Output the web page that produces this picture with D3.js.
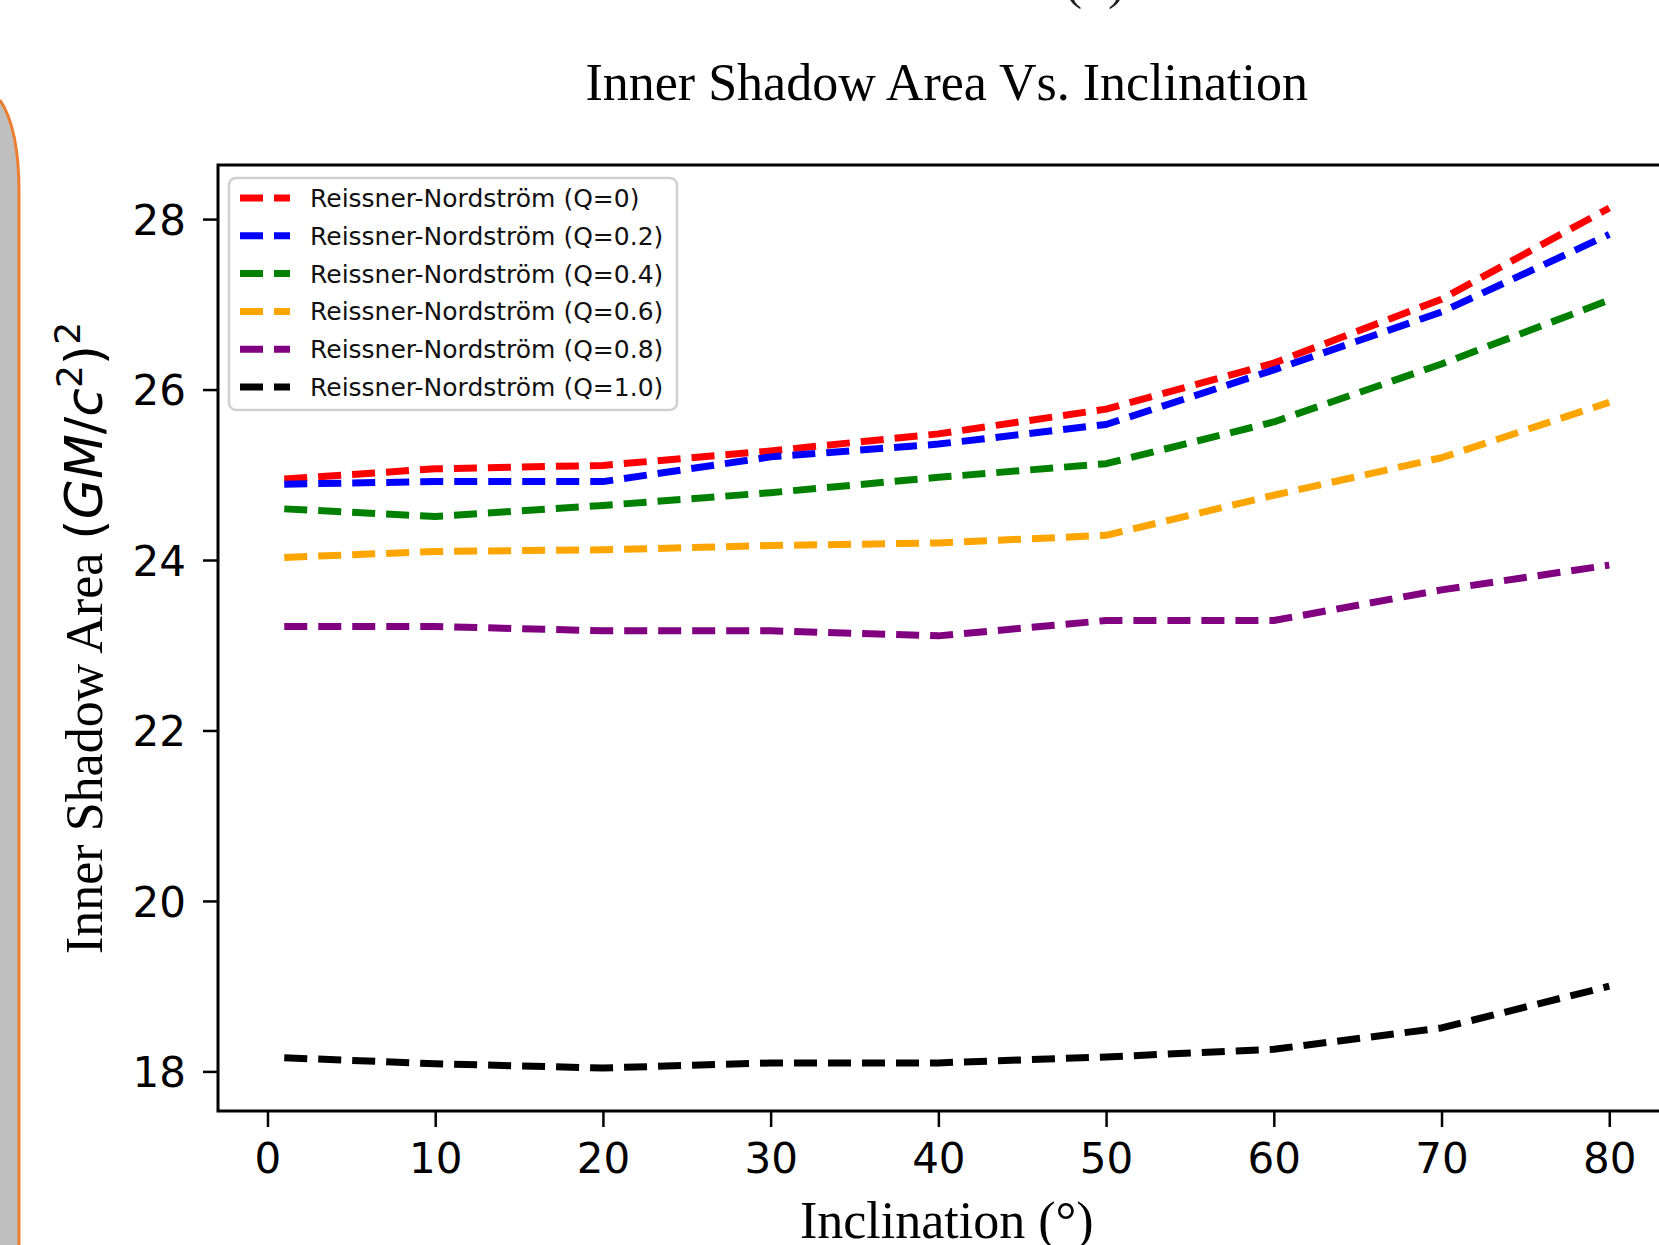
<!DOCTYPE html>
<html>
<head>
<meta charset="utf-8">
<script src="https://cdn.jsdelivr.net/npm/d3@7"></script>
<style>
  html, body { margin: 0; padding: 0; background: #fff; }
  svg { display: block; }
</style>
</head>
<body>
<svg id="chart" width="1659" height="1245"></svg>
<script>
// ---------------- DATA ----------------
const inclinations = [1, 10, 20, 30, 40, 50, 60, 70, 80];
const seriesLabels = [
  "Reissner-Nordström (Q=0)",
  "Reissner-Nordström (Q=0.2)",
  "Reissner-Nordström (Q=0.4)",
  "Reissner-Nordström (Q=0.6)",
  "Reissner-Nordström (Q=0.8)",
  "Reissner-Nordström (Q=1.0)"
];
const seriesColors = ["#ff0000", "#0000ff", "#008000", "#ffa500", "#800080", "#000000"];
const areaQ00 = [24.95, 25.07, 25.11, 25.28, 25.48, 25.77, 26.31, 27.06, 28.13];
const areaQ02 = [24.89, 24.92, 24.92, 25.21, 25.36, 25.59, 26.23, 26.91, 27.82];
const areaQ04 = [24.60, 24.51, 24.64, 24.79, 24.97, 25.13, 25.62, 26.30, 27.05];
const areaQ06 = [24.03, 24.10, 24.12, 24.17, 24.20, 24.29, 24.76, 25.20, 25.85];
const areaQ08 = [23.22, 23.22, 23.17, 23.17, 23.11, 23.29, 23.29, 23.65, 23.94];
const areaQ10 = [18.16, 18.09, 18.04, 18.10, 18.10, 18.17, 18.26, 18.51, 19.00];
const xTicks = [0, 10, 20, 30, 40, 50, 60, 70, 80];
const yTicks = [18, 20, 22, 24, 26, 28];
const titleText = "Inner Shadow Area Vs. Inclination";
const xLabelText = "Inclination (°)";

const allSeries = [areaQ00, areaQ02, areaQ04, areaQ06, areaQ08, areaQ10].map((vals, i) => ({
  label: seriesLabels[i],
  color: seriesColors[i],
  points: vals.map((v, j) => ({ x: inclinations[j], y: v }))
}));

// ---------------- LAYOUT ----------------
const svg = d3.select("#chart");
const plot = { left: 218, right: 1675.5, top: 165, bottom: 1111 };
const SERIF = "'Liberation Serif', 'Times New Roman', Times, serif";
const SANS = "'DejaVu Sans', Verdana, sans-serif";

// background decoration on the left (slide frame)
svg.append("path")
  .attr("d", "M -10 98 L 0 100 C 12 118 19 150 19 192 L 19 1260 L -10 1260 Z")
  .attr("fill", "#bfbfbf")
  .attr("stroke", "none");
svg.append("path")
  .attr("d", "M 0 100 C 12 118 19 150 19 192 L 19 1260")
  .attr("fill", "none")
  .attr("stroke", "#ed7d31")
  .attr("stroke-width", 3);

// cropped panel label at top
svg.append("text")
  .attr("x", 1095).attr("y", -2)
  .attr("text-anchor", "middle")
  .attr("font-family", SERIF)
  .attr("font-size", 52)
  .attr("fill", "#222")
  .text("(b)");

// ---------------- SCALES ----------------
const xExt = d3.extent(inclinations);
const xPad = (xExt[1] - xExt[0]) * 0.05;
const allY = allSeries.flatMap(s => s.points.map(p => p.y));
const yExt = d3.extent(allY);
const yPad = (yExt[1] - yExt[0]) * 0.05;

const x = d3.scaleLinear().domain([xExt[0] - xPad, xExt[1] + xPad]).range([plot.left, plot.right]);
const y = d3.scaleLinear().domain([yExt[0] - yPad, yExt[1] + yPad]).range([plot.bottom, plot.top]);

// ---------------- LINES ----------------
const line = d3.line().x(d => x(d.x)).y(d => y(d.y));
svg.append("g").selectAll("path")
  .data(allSeries)
  .join("path")
  .attr("d", d => line(d.points))
  .attr("fill", "none")
  .attr("stroke", d => d.color)
  .attr("stroke-width", 7)
  .attr("stroke-dasharray", "23,11")
  .attr("stroke-linecap", "butt")
  .attr("stroke-linejoin", "round");

// ---------------- AXES ----------------
const xAxis = svg.append("g")
  .attr("transform", `translate(0,${plot.bottom})`)
  .call(d3.axisBottom(x).tickValues(xTicks).tickSize(16).tickPadding(14).tickFormat(d3.format("d")));
const yAxis = svg.append("g")
  .attr("transform", `translate(${plot.left},0)`)
  .call(d3.axisLeft(y).tickValues(yTicks).tickSize(15).tickPadding(17).tickFormat(d3.format("d")));

[xAxis, yAxis].forEach(g => {
  g.select(".domain").remove();
  g.selectAll(".tick line").attr("stroke", "#000").attr("stroke-width", 2.5);
  g.selectAll(".tick text")
    .attr("font-family", SANS)
    .attr("font-size", 42)
    .attr("fill", "#000");
});
xAxis.selectAll(".tick text").attr("dy", "0.76em");
yAxis.selectAll(".tick text").attr("dy", "0.36em");

// spines (left, top, bottom; right is outside the image)
svg.append("rect")
  .attr("x", plot.left).attr("y", plot.top)
  .attr("width", plot.right - plot.left).attr("height", plot.bottom - plot.top)
  .attr("fill", "none")
  .attr("stroke", "#000")
  .attr("stroke-width", 3);

// ---------------- LEGEND ----------------
const legend = svg.append("g");
legend.append("rect")
  .attr("x", 229).attr("y", 178)
  .attr("width", 448).attr("height", 232)
  .attr("rx", 7).attr("ry", 7)
  .attr("fill", "#fff").attr("fill-opacity", 0.85)
  .attr("stroke", "#d0d0d0").attr("stroke-width", 2.5);
const rows = legend.selectAll("g.row")
  .data(allSeries)
  .join("g")
  .attr("class", "row")
  .attr("transform", (d, i) => `translate(0,${198 + i * 37.8})`);
rows.append("line")
  .attr("x1", 240).attr("x2", 290)
  .attr("y1", 0).attr("y2", 0)
  .attr("stroke", d => d.color)
  .attr("stroke-width", 7)
  .attr("stroke-dasharray", "23,11");
rows.append("text")
  .attr("x", 310).attr("y", 0)
  .attr("dy", "0.36em")
  .attr("font-family", SANS)
  .attr("font-size", 25)
  .attr("fill", "#111")
  .text(d => d.label);

// ---------------- TEXTS ----------------
svg.append("text")
  .attr("x", (plot.left + plot.right) / 2).attr("y", 100)
  .attr("text-anchor", "middle")
  .attr("font-family", SERIF)
  .attr("font-size", 52)
  .attr("fill", "#000")
  .text(titleText);

svg.append("text")
  .attr("x", (plot.left + plot.right) / 2).attr("y", 1238)
  .attr("text-anchor", "middle")
  .attr("font-family", SERIF)
  .attr("font-size", 52)
  .attr("fill", "#000")
  .text(xLabelText);

const yl = svg.append("text")
  .attr("transform", "translate(102,638) rotate(-90)")
  .attr("text-anchor", "middle")
  .attr("font-size", 52)
  .attr("fill", "#000");
yl.append("tspan").attr("font-family", SERIF).text("Inner Shadow Area ");
yl.append("tspan").attr("font-family", SANS).text("(");
yl.append("tspan").attr("font-family", SANS).attr("font-style", "italic").text("GM");
yl.append("tspan").attr("font-family", SANS).text("/");
yl.append("tspan").attr("font-family", SANS).attr("font-style", "italic").text("c");
yl.append("tspan").attr("font-family", SANS).attr("font-size", 36).attr("dy", -20).text("2");
yl.append("tspan").attr("font-family", SANS).attr("dy", 20).text(")");
yl.append("tspan").attr("font-family", SANS).attr("font-size", 36).attr("dy", -22).text("2");
</script>
</body>
</html>
